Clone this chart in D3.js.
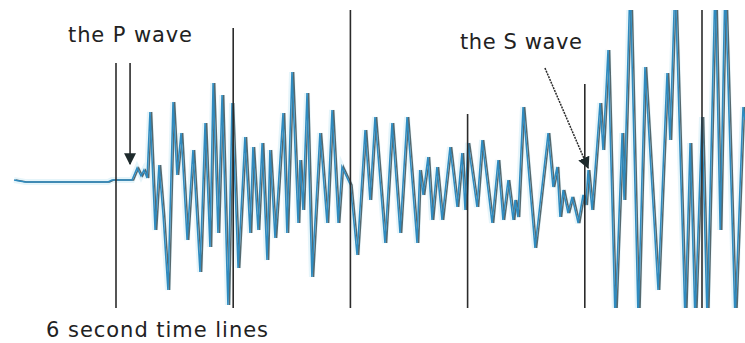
<!DOCTYPE html>
<html>
<head>
<meta charset="utf-8">
<script src="https://cdn.jsdelivr.net/npm/d3@7"></script>
<style>
  html, body { margin: 0; padding: 0; background: #fff; }
  svg { display: block; }
</style>
</head>
<body>
<div id="chart"></div>
<script>
// seismogram trace, time in seconds, amplitude in arbitrary counts (0 = rest)
const traceTime = [
  0.78, 1.34, 5.59, 5.80, 6.82, 7.08, 7.28, 7.43, 7.59, 7.74,
  8.00, 8.20, 8.41, 8.66, 8.92, 9.12, 9.33, 9.64, 9.94, 10.30,
  10.56, 10.81, 10.97, 11.22, 11.43, 11.73, 11.94, 12.25, 12.60, 12.86,
  13.01, 13.27, 13.48, 13.73, 13.88, 14.14, 14.55, 14.75, 15.01, 15.32,
  15.42, 15.57, 15.78, 16.03, 16.44, 16.80, 17.06, 17.37, 17.57, 18.00,
  18.34, 18.75, 19.00, 19.26, 19.77, 20.13, 20.54, 20.90, 21.41, 21.55,
  21.72, 21.97, 22.18, 22.43, 22.69, 23.10, 23.46, 23.71, 23.87, 24.02,
  24.48, 24.74, 25.25, 25.56, 25.81, 26.07, 26.33, 26.43, 26.58, 26.84,
  27.45, 28.12, 28.37, 28.58, 28.73, 28.89, 29.14, 29.35, 29.66, 29.91,
  30.05, 30.17, 30.37, 30.78, 30.93, 31.19, 31.55, 31.91, 32.01, 32.32,
  32.73, 33.08, 33.75, 34.21, 34.36, 34.62, 35.13, 35.39, 35.64, 36.00,
  36.26, 36.67, 36.93, 37.18, 37.69, 38.10, 38.20
];
const traceAmp = [
  0, -2, -2, 0, 0, 12, 4, 10, 2, 68,
  -50, 15, -35, -110, 78, 5, 47, -60, 30, -92,
  57, -67, 97, -53, 85, -125, 77, -88, 43, -53,
  33, -50, 37, -80, 30, -58, 67, -53, 108, -43,
  20, -30, 87, -97, 47, -43, 70, -43, 13, -5,
  -75, 50, -20, 63, -63, 57, -53, 63, -63, 10,
  -15, 23, -40, 13, -40, 33, -27, 27, -30, 37,
  -27, 40, -43, 20, -40, 0, -40, -20, -37, 73,
  -68, 47, -7, 13, -37, -10, -33, -17, -43, -15,
  -25, 10, -30, 77, 30, 130, -140, 47, -20, 200,
  -140, 113, -110, 107, 40, 200, -140, 37, -140, 63,
  -140, 200, -50, 200, -140, 73, 60
];

// 6 second time lines and how far up each one is drawn
const timeLines = [6, 12, 18, 24, 30, 36];
const timeLineTops = [117, 152, 170, 66, 96, 170];

const labels = ["the P wave", "the S wave", "6 second time lines"];

const width = 745, height = 343;

const x = d3.scaleLinear().domain([6, 36]).range([116, 702]);
const y = d3.scaleLinear().domain([-128, 170]).range([308, 10]);

const svg = d3.select('#chart').append('svg')
    .attr('width', width).attr('height', height);

svg.append('defs').append('clipPath').attr('id', 'plotClip')
  .append('rect')
    .attr('x', 0).attr('y', y(170))
    .attr('width', width).attr('height', y(-128) - y(170));

const marker = svg.select('defs').append('marker')
    .attr('id', 'arrow')
    .attr('viewBox', '0 0 10 10')
    .attr('refX', 9).attr('refY', 5)
    .attr('markerUnits', 'userSpaceOnUse')
    .attr('markerWidth', 12).attr('markerHeight', 12)
    .attr('orient', 'auto');
marker.append('path').attr('d', 'M0,0 L10,5 L0,10 z').attr('fill', '#1e2a2c');

const trace = traceTime.map((t, i) => [t, traceAmp[i]]);
const line = d3.line().x(d => x(d[0])).y(d => y(d[1]));

const traceLayer = svg.append('g').attr('clip-path', 'url(#plotClip)');

// faint halo, grey shadow, then the blue ink
traceLayer.append('path')
    .datum(trace)
    .attr('d', line)
    .attr('fill', 'none')
    .attr('stroke', '#d6eef6')
    .attr('stroke-width', 6)
    .attr('opacity', 0.6);
traceLayer.append('path')
    .datum(trace)
    .attr('d', line)
    .attr('transform', 'translate(1.6,0)')
    .attr('fill', 'none')
    .attr('stroke', '#56686d')
    .attr('stroke-width', 1.5);
traceLayer.append('path')
    .datum(trace)
    .attr('d', line)
    .attr('fill', 'none')
    .attr('stroke', '#2e8bc0')
    .attr('stroke-width', 1.6);

svg.append('g').selectAll('line')
  .data(timeLines)
  .join('line')
    .attr('x1', d => x(d)).attr('x2', d => x(d))
    .attr('y1', (d, i) => y(timeLineTops[i]))
    .attr('y2', y(-128))
    .attr('stroke', '#2b2b2b')
    .attr('stroke-width', 1.6);

// arrows
svg.append('line')
    .attr('x1', x(6.72)).attr('y1', y(117))
    .attr('x2', x(6.72)).attr('y2', y(16))
    .attr('stroke', '#2b2b2b').attr('stroke-width', 1.6)
    .attr('marker-end', 'url(#arrow)');
svg.append('line')
    .attr('x1', x(27.96)).attr('y1', y(112))
    .attr('x2', x(30.17)).attr('y2', y(12))
    .attr('stroke', '#2b2b2b').attr('stroke-width', 1.5)
    .attr('stroke-dasharray', '2,1')
    .attr('marker-end', 'url(#arrow)');

const text = svg.append('g')
    .attr('font-family', 'DejaVu Sans, Verdana, sans-serif')
    .attr('font-size', 21)
    .attr('fill', '#222');
text.append('text').attr('x', 68).attr('y', 42)
    .attr('textLength', 124).attr('lengthAdjust', 'spacing').text(labels[0]);
text.append('text').attr('x', 460).attr('y', 49)
    .attr('textLength', 122).attr('lengthAdjust', 'spacing').text(labels[1]);
text.append('text').attr('x', 46).attr('y', 337)
    .attr('textLength', 222).attr('lengthAdjust', 'spacing').text(labels[2]);
</script>
</body>
</html>
